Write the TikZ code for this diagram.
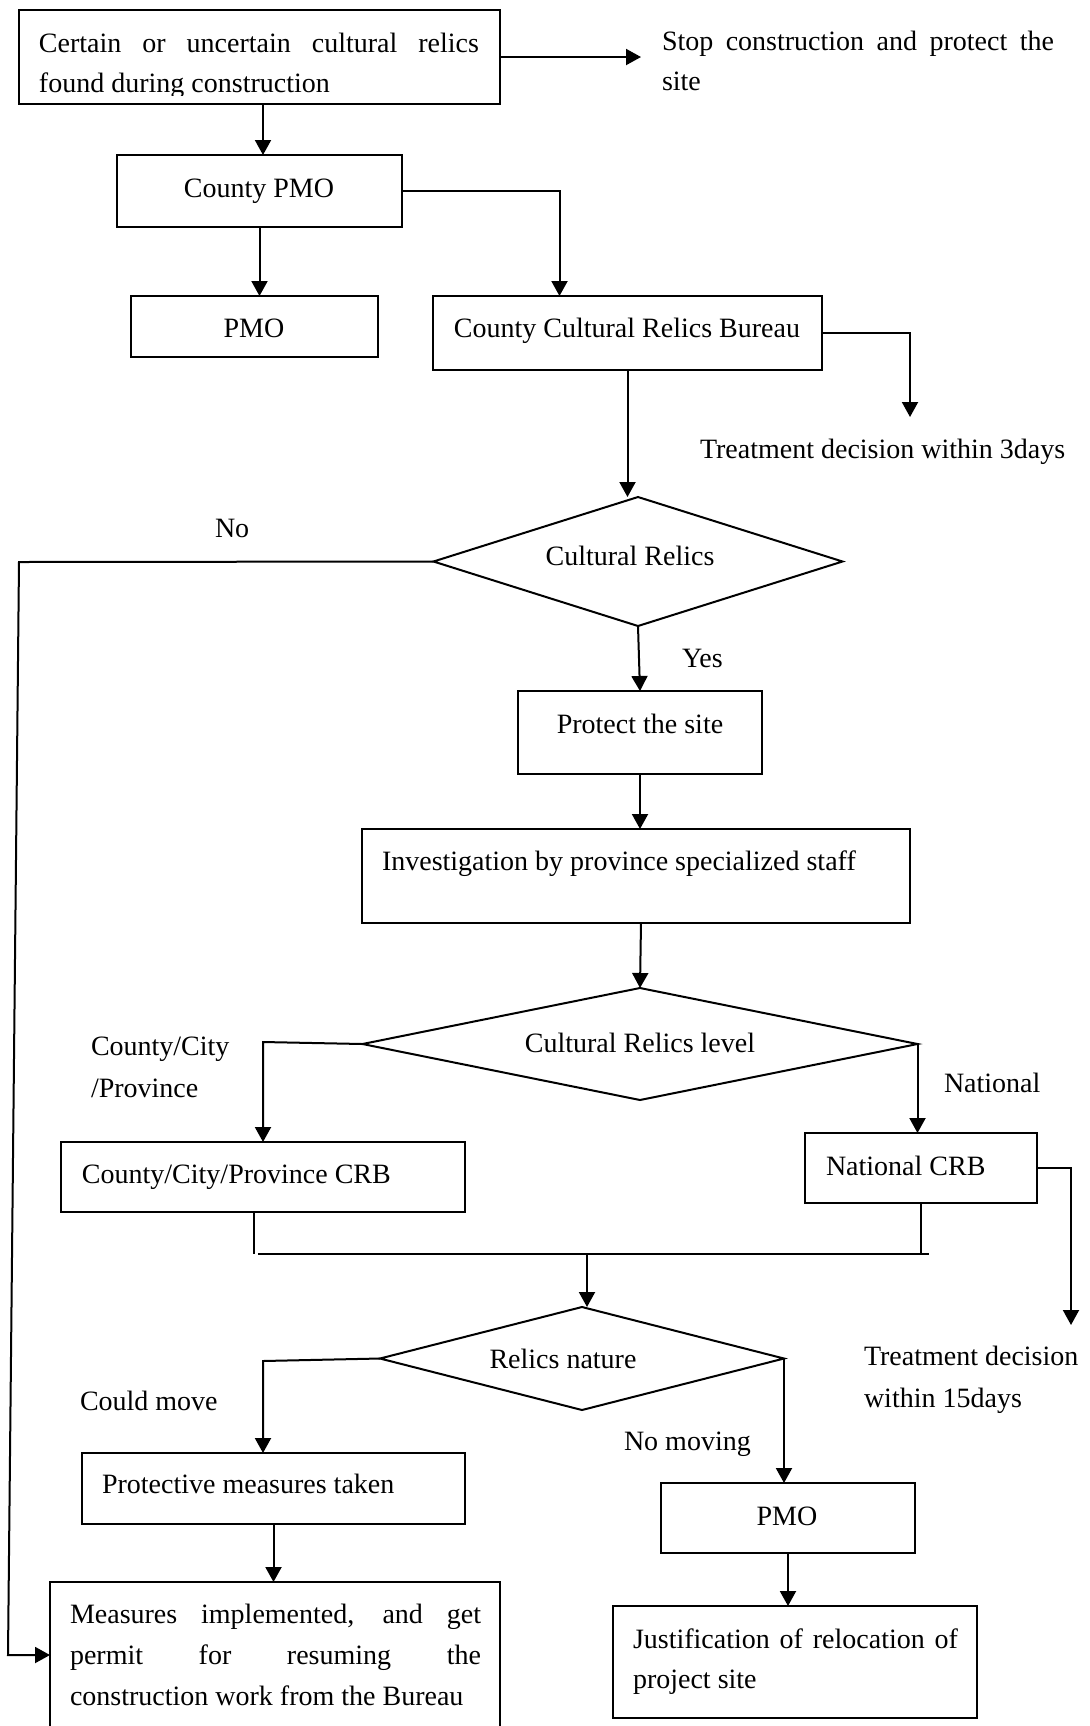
\documentclass[tikz,border=0pt]{standalone}
\usepackage{fontspec}
\setmainfont{Liberation Serif}
\usetikzlibrary{arrows.meta,shapes.geometric,fit,calc}
\tikzset{
  box/.style={draw, line width=1pt, inner sep=0pt, outer sep=0pt},
  dia/.style={draw, diamond, line width=1pt, inner sep=0pt, outer sep=0pt},
  txt/.style={inner sep=0pt, outer sep=0pt, font=\fontsize{14pt}{20pt}\selectfont},
  par/.style={txt, align=justify, execute at begin node={\hyphenpenalty=10000\exhyphenpenalty=10000}},
  conn/.style={line width=1pt},
  arr/.style={line width=1pt, -{Triangle[length=7.5pt,width=8pt]}},
}
\begin{document}
\begin{tikzpicture}[x=0.5pt,y=-0.5pt]
\useasboundingbox (0,0) rectangle (1090,1726);
\clip (0,0) rectangle (1090,1726);
% boxes
\node[box, fit={(19,10) (500,104)}] (b1) {};
\node[box, fit={(117,155) (402,227)}] (cpmo) {};
\node[box, fit={(131,296) (378,357)}] (pmo) {};
\node[box, fit={(433,296) (822,370)}] (ccrb) {};
\node[box, fit={(518,691) (762,774)}] (protect) {};
\node[box, fit={(362,829) (910,923)}] (invest) {};
\node[box, fit={(61,1142) (465,1212)}] (crb1) {};
\node[box, fit={(805,1133) (1037,1203)}] (ncrb) {};
\node[box, fit={(82,1453) (465,1524)}] (protm) {};
\node[box, fit={(50,1582) (500,1760)}] (meas) {};
\node[box, fit={(661,1483) (915,1553)}] (pmo2) {};
\node[box, fit={(613,1606) (977,1718)}] (just) {};
% diamonds
\node[dia, minimum width=204.5pt, minimum height=64.5pt] (d1) at (638,561.5) {};
\node[dia, minimum width=277.5pt, minimum height=56pt] (d2) at (640,1044) {};
\node[dia, minimum width=202pt, minimum height=51.5pt] (d3) at (582,1358.5) {};
% texts
\begin{scope}
\clip (19,10) rectangle (500,95);
\node[par, anchor=base west, text width=220pt] (t1) at (39,52) {Certain or uncertain cultural relics\linebreak found during construction};
\end{scope}
\node[par, anchor=base west, text width=196pt] (tstop) at (662,50) {Stop construction and protect the\linebreak site};
\node[txt, anchor=base] (tcpmo) at (259,197) {County PMO};
\node[txt, anchor=base] (tpmo) at (254,337) {PMO};
\node[txt, anchor=base] (tccrb) at (627,337) {County Cultural Relics Bureau};
\node[txt, anchor=base west] (t3d) at (700,458) {Treatment decision within 3days};
\node[txt, anchor=base west] (tno) at (215,537) {No};
\node[txt, anchor=base] (tcr) at (630,565) {Cultural Relics};
\node[txt, anchor=base west] (tyes) at (682,667) {Yes};
\node[txt, anchor=base] (tprot) at (640,733) {Protect the site};
\node[txt, anchor=base west] (tinv) at (382,870) {Investigation by province specialized staff};
\node[txt, anchor=base] (tcrl) at (640,1052) {Cultural Relics level};
\node[txt, anchor=base west, align=left, font=\fontsize{14pt}{21pt}\selectfont] (tccp) at (91,1097) {County/City\\/Province};
\node[txt, anchor=base west] (tnat) at (944,1092) {National};
\node[txt, anchor=base west] (tcrb1) at (82,1183) {County/City/Province CRB};
\node[txt, anchor=base west] (tncrb) at (826,1175) {National CRB};
\node[txt, anchor=base] (trn) at (563,1368) {Relics nature};
\node[txt, anchor=base west, align=left, font=\fontsize{14pt}{21pt}\selectfont] (t15) at (864,1407) {Treatment decision\\within 15days};
\node[txt, anchor=base west] (tcm) at (80,1410) {Could move};
\node[txt, anchor=base west] (tnm) at (624,1450) {No moving};
\node[txt, anchor=base west] (tpm) at (102,1493) {Protective measures taken};
\node[txt, anchor=base] (tpmo2) at (787,1525) {PMO};
\node[par, anchor=base west, text width=205.5pt, font=\fontsize{14pt}{20.5pt}\selectfont] (tmeas) at (70,1623) {Measures implemented, and get\linebreak permit for resuming the\linebreak construction work from the Bureau};
\node[par, anchor=base west, text width=162.5pt] (tjust) at (633,1648) {Justification of relocation of\linebreak project site};
% free-end coordinates
\coordinate (stopend) at (641,57);
\coordinate (e3d) at (910,417);
\coordinate (n1) at (19,562);
\coordinate (n2) at (8,1655);
\coordinate (e15) at (1071,1325);
\coordinate (mL) at (254,1254);
\coordinate (mR) at (921,1254);
% connectors
\draw[arr] (b1.east) -- (stopend);
\draw[arr] (b1.south -| 263,0) -- (cpmo.north -| 263,0);
\draw[arr] (cpmo.south) -- (cpmo.south |- pmo.north);
\draw[arr] (cpmo.east) -| ($(ccrb.north)+(-68,0)$);
\draw[arr] (ccrb.east) -| (e3d);
\draw[arr] (ccrb.south) -- (ccrb.south |- d1.north);
\draw[arr] (d1.west) -- (n1) -- (n2) -- (meas.west |- n2);
\draw[arr] (d1.south) -- (protect.north);
\draw[arr] (protect.south) -- (protect.south |- invest.north);
\draw[arr] ($(invest.south)+(5,0)$) -- (d2.north);
\draw[arr] (d2.west) -- (263,1042) -- (263,1142);
\draw[arr] (d2.east) -- (d2.east |- ncrb.north);
\draw[arr] (ncrb.east) -| (e15);
\draw[conn] (crb1.south -| mL) -- (mL);
\draw[conn] (ncrb.south -| mR) -- (mR);
\draw[conn, line width=1.3pt] ($(mL)+(4,0)$) -- ($(mR)+(8,0)$);
\draw[arr] (587,1254) -- (d3.north -| 587,0);
\draw[arr] (d3.west) -- (263,1361) -- (protm.north -| 263,0);
\draw[arr] (d3.east) -- (d3.east |- pmo2.north);
\draw[arr] (protm.south) -- (protm.south |- meas.north);
\draw[arr] (pmo2.south) -- (pmo2.south |- just.north);
\end{tikzpicture}
\end{document}
